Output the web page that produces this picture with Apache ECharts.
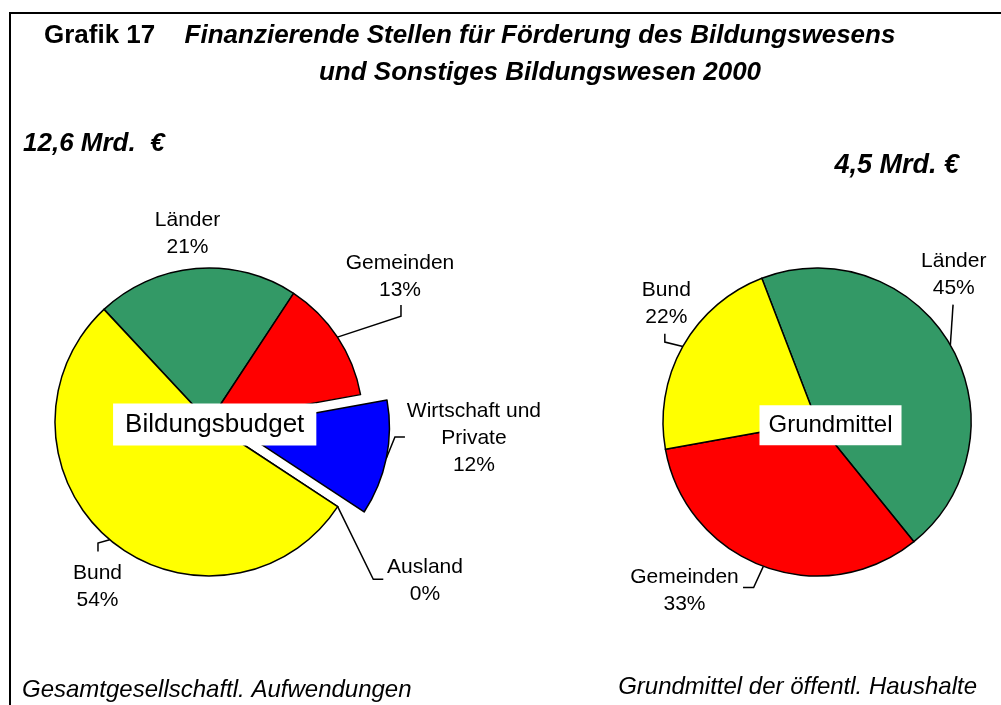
<!DOCTYPE html>
<html lang="de">
<head>
<meta charset="utf-8">
<title>Grafik 17</title>
<script src="https://cdn.jsdelivr.net/npm/echarts@6/dist/echarts.min.js"></script>
<style>
  html, body { margin: 0; padding: 0; background: #fff; }
  #chart { width: 1001px; height: 705px; }
</style>
</head>
<body>
<div id="chart"></div>
<script>
  // Bildungsbudget: Gesamtgesellschaftl. Aufwendungen, Anteile in %
  const budgetNames = ['Länder', 'Gemeinden', 'Wirtschaft und\nPrivate', 'Ausland', 'Bund'];
  const budgetShares = [21.2, 12.9, 12.1, 0, 53.8];
  const budgetSum = '12,6 Mrd.  €';

  // Grundmittel der öffentl. Haushalte, Anteile in %
  const grundNames = ['Länder', 'Gemeinden', 'Bund'];
  const grundShares = [45, 33, 22];
  const grundSum = '4,5 Mrd. €';

  // Farben je finanzierender Stelle
  const colorOf = {
    'Länder': '#339966',
    'Gemeinden': '#FF0000',
    'Wirtschaft und\nPrivate': '#0000FF',
    'Ausland': '#FF00FF',
    'Bund': '#FFFF00'
  };

  const FONT = '"Liberation Sans", Arial, sans-serif';
  const R = 154;
  const leftCenter = [209, 422];
  const rightCenter = [817, 422];
  const leftStart = 133;   // Grad, Länder beginnt links oben
  const rightStart = 111;
  const explodeIdx = 2;    // Wirtschaft und Private herausgezogen
  const explodeOffset = 27;

  // Beschriftung relativ zum Randpunkt des Segments: Knick, Linienende, Textmitte
  const budgetLabelPos = [
    { line: [[0, 0], [0, 0]], text: [-8.5, -34.5] },
    { line: [[63.5, -21], [63.5, -32]], text: [62.5, -60] },
    { line: [[8.6, -21.2], [18.6, -21.2]], text: [87.6, -19.7] },
    { line: [[35.6, 72.7], [45.6, 72.7]], text: [87.3, 74.4] },
    { line: [[-11.7, 3.3], [-11.7, 11.7]], text: [-12.2, 47] }
  ];
  const grundLabelPos = [
    { line: [[2.7, -40.4], [2.7, -40.4]], text: [3.4, -70.6] },
    { line: [[-9.7, 21.1], [-20.3, 21.1]], text: [-78.8, 24.1] },
    { line: [[-18, -4.3], [-18, -12.7]], text: [-16.5, -43] }
  ];

  function placeLabels(pos) {
    return function (params) {
      const o = pos[params.dataIndex];
      const pts = params.labelLinePoints;
      if (!o || !pts) return {};
      const p = pts[0];
      return {
        x: p[0] + o.text[0],
        y: p[1] + o.text[1],
        align: 'center',
        verticalAlign: 'middle',
        labelLinePoints: [
          [p[0], p[1]],
          [p[0] + o.line[0][0], p[1] + o.line[0][1]],
          [p[0] + o.line[1][0], p[1] + o.line[1][1]]
        ]
      };
    };
  }

  const hidden = {
    itemStyle: { color: 'transparent', borderWidth: 0 },
    label: { show: false },
    labelLine: { show: false }
  };

  function pieData(names, shares, showFn) {
    return names.map((name, i) => {
      const item = { name: name, value: shares[i], itemStyle: { color: colorOf[name] } };
      return showFn(i) ? item : Object.assign(item, hidden);
    });
  }

  function pieSeries(center, startAngle, data, pos) {
    return {
      type: 'pie',
      center: center,
      radius: R,
      startAngle: startAngle,
      clockwise: true,
      avoidLabelOverlap: false,
      percentPrecision: 0,
      silent: true,
      itemStyle: { borderColor: '#000', borderWidth: 1.5 },
      label: {
        show: true,
        position: 'outside',
        formatter: '{b}\n{d}%',
        color: '#000',
        fontFamily: FONT,
        fontSize: 21,
        lineHeight: 27,
        overflow: 'none'
      },
      labelLine: {
        show: true,
        smooth: false,
        lineStyle: { color: '#000', width: 1.5 }
      },
      labelLayout: placeLabels(pos),
      data: data
    };
  }

  // Mittelpunkt des herausgezogenen Segments aus den Anteilen
  const total = budgetShares.reduce((a, b) => a + b, 0);
  let before = 0;
  for (let i = 0; i < explodeIdx; i++) before += budgetShares[i];
  const midRad = (leftStart - (before + budgetShares[explodeIdx] / 2) / total * 360) * Math.PI / 180;
  const explodedCenter = [
    leftCenter[0] + explodeOffset * Math.cos(midRad),
    leftCenter[1] - explodeOffset * Math.sin(midRad)
  ];

  function txt(x, y, text, font, align, extra) {
    return {
      type: 'text', x: x, y: y, z: 100, silent: true,
      style: Object.assign({
        text: text, font: font, fill: '#000',
        align: align, textAlign: align,
        verticalAlign: 'middle', textVerticalAlign: 'middle'
      }, extra || {})
    };
  }

  const chart = echarts.init(document.getElementById('chart'));
  chart.setOption({
    animation: false,
    backgroundColor: '#fff',
    graphic: [
      {
        type: 'rect', z: 0, silent: true,
        shape: { x: 10, y: 13, width: 1000, height: 700 },
        style: { fill: 'none', stroke: '#000', lineWidth: 2 }
      },
      txt(44, 36, 'Grafik 17', 'bold 26px ' + FONT, 'left'),
      txt(540, 35.5, 'Finanzierende Stellen für Förderung des Bildungswesens', 'italic bold 26px ' + FONT, 'center'),
      txt(540, 73, 'und Sonstiges Bildungswesen 2000', 'italic bold 26px ' + FONT, 'center'),
      txt(23, 143.5, budgetSum, 'italic bold 26px ' + FONT, 'left'),
      txt(959, 166, grundSum, 'italic bold 27px ' + FONT, 'right'),
      txt(22, 690.5, 'Gesamtgesellschaftl. Aufwendungen', 'italic 24px ' + FONT, 'left'),
      txt(977, 687, 'Grundmittel der öffentl. Haushalte', 'italic 24px ' + FONT, 'right'),
      txt(214.7, 424.5, 'Bildungsbudget', '26px ' + FONT, 'center',
        { backgroundColor: '#fff', padding: [8, 12] }),
      txt(830.5, 425.3, 'Grundmittel', '24px ' + FONT, 'center',
        { backgroundColor: '#fff', padding: [8, 9] })
    ],
    series: [
      pieSeries(leftCenter, leftStart,
        pieData(budgetNames, budgetShares, i => i !== explodeIdx), budgetLabelPos),
      pieSeries(explodedCenter, leftStart,
        pieData(budgetNames, budgetShares, i => i === explodeIdx), budgetLabelPos),
      pieSeries(rightCenter, rightStart,
        pieData(grundNames, grundShares, () => true), grundLabelPos)
    ]
  });
</script>
</body>
</html>
